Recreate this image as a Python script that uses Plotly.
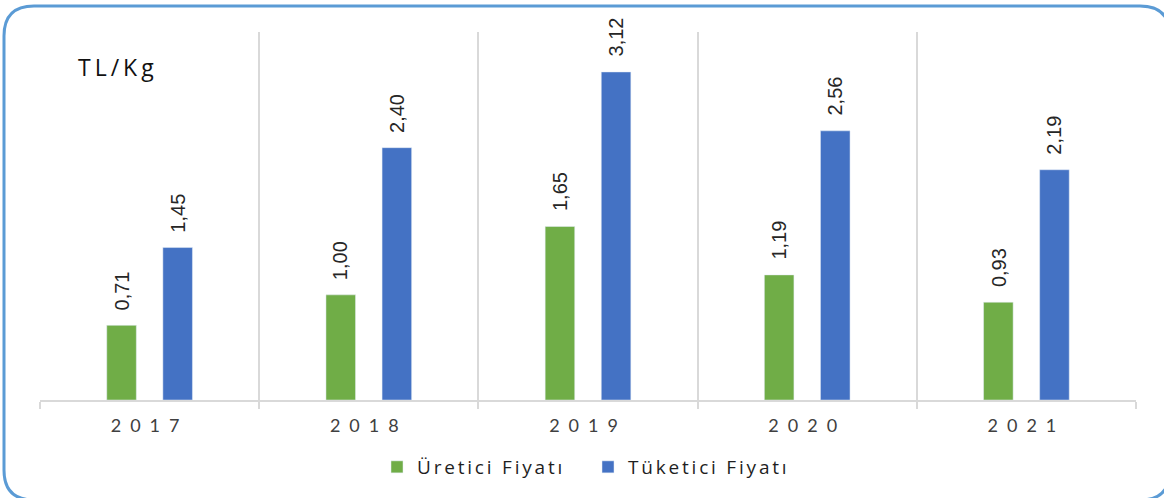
import plotly.graph_objects as go

years = ["2017", "2018", "2019", "2020", "2021"]
uretici = [0.71, 1.00, 1.65, 1.19, 0.93]
tuketici = [1.45, 2.40, 3.12, 2.56, 2.19]
series_names = ["Üretici Fiyatı", "Tüketici Fiyatı"]
unit_label = "TL/Kg"

GREEN = "#70ad47"
BLUE = "#4472c4"
GRID = "#d9d9d9"
TXT = "#404040"

W, H = 1164, 498
ML, MR, MT, MB = 40, 28, 32, 98

def fmt(v):
    return f"{v:.2f}".replace(".", ",")

fig = go.Figure()
fig.add_trace(go.Bar(x=years, y=uretici, name=series_names[0], marker_color=GREEN))
fig.add_trace(go.Bar(x=years, y=tuketici, name=series_names[1], marker_color=BLUE))

pw, ph = W - ML - MR, H - MT - MB
def px(x):
    return (x - ML) / pw
def py(y):
    return (H - MB - y) / ph

annos = [dict(
    x=px(86), y=py(67), xref="paper", yref="paper", text=unit_label, showarrow=False,
    xanchor="left", yanchor="middle", font=dict(family="Open Sans, Lato", size=23, color="#111111"),
)]

# data labels, rotated, just above each bar
for vals, shift in ((uretici, -28), (tuketici, 28)):
    for i, v in enumerate(vals):
        annos.append(dict(
            x=i, y=v, xref="x", yref="y", text=fmt(v), showarrow=False,
            textangle=-90, xanchor="center", yanchor="bottom", xshift=shift, yshift=13,
            font=dict(family="Liberation Sans Narrow, Arial Narrow, Liberation Sans", size=20, color="#262626"),
        ))

# rounded border
L, T, R, B, r = 4, 6, 1170, 500, 30
path = (
    f"M{px(L+r)},{py(T)} L{px(R-r)},{py(T)} Q{px(R)},{py(T)} {px(R)},{py(T+r)} "
    f"L{px(R)},{py(B-r)} Q{px(R)},{py(B)} {px(R-r)},{py(B)} "
    f"L{px(L+r)},{py(B)} Q{px(L)},{py(B)} {px(L)},{py(B-r)} "
    f"L{px(L)},{py(T+r)} Q{px(L)},{py(T)} {px(L+r)},{py(T)} Z"
)

fig.update_layout(
    width=W, height=H,
    margin=dict(l=ML, r=MR, t=MT, b=MB),
    paper_bgcolor="white", plot_bgcolor="white",
    barmode="group", bargap=0.488, bargroupgap=0.473,
    font=dict(family="Open Sans, Lato", color=TXT),
    showlegend=True,
    legend=dict(orientation="h", x=0.5, xanchor="center", y=py(467), yanchor="middle",
                font=dict(family="Open Sans, Lato", size=19, color="#1f1f1f"),
                itemwidth=30, traceorder="normal", entrywidth=166, entrywidthmode="pixels"),
    annotations=annos,
    shapes=[dict(type="path", xref="paper", yref="paper", path=path,
                 line=dict(color="#5b9bd5", width=3), fillcolor="rgba(0,0,0,0)", layer="above")],
    xaxis=dict(type="category", tickson="boundaries", showgrid=True, gridcolor=GRID, gridwidth=2,
               showline=True, linecolor=GRID, linewidth=2,
               ticks="outside", ticklen=7, tickcolor=GRID, tickwidth=2,
               ticklabelstandoff=8,
               tickfont=dict(family="Lato, Open Sans", size=18, color=TXT),
               range=[-0.5, 4.5], fixedrange=True),
    yaxis=dict(visible=False, range=[0, 3.5], fixedrange=True),
)

post = """
document.body.style.margin = '0';
document.body.style.overflow = 'hidden';
var st = document.createElement('style');
st.textContent = '.xtick text{letter-spacing:9px;} .legendtext{letter-spacing:2.8px;} ' +
  '.annotation[data-index="0"] .annotation-text{letter-spacing:4px;}';
document.head.appendChild(st);
var gd = document.getElementById('{plot_id}');
var lay = gd.layout;
lay.legend.font.size = lay.legend.font.size + 0.01;
lay.annotations[0].font.size = lay.annotations[0].font.size + 0.01;
lay.xaxis.tickfont.size = lay.xaxis.tickfont.size + 0.01;
Plotly.newPlot(gd, gd.data, lay, {displayModeBar: false});
"""
fig.write_html("out.html", post_script=post, config={"displayModeBar": False})
